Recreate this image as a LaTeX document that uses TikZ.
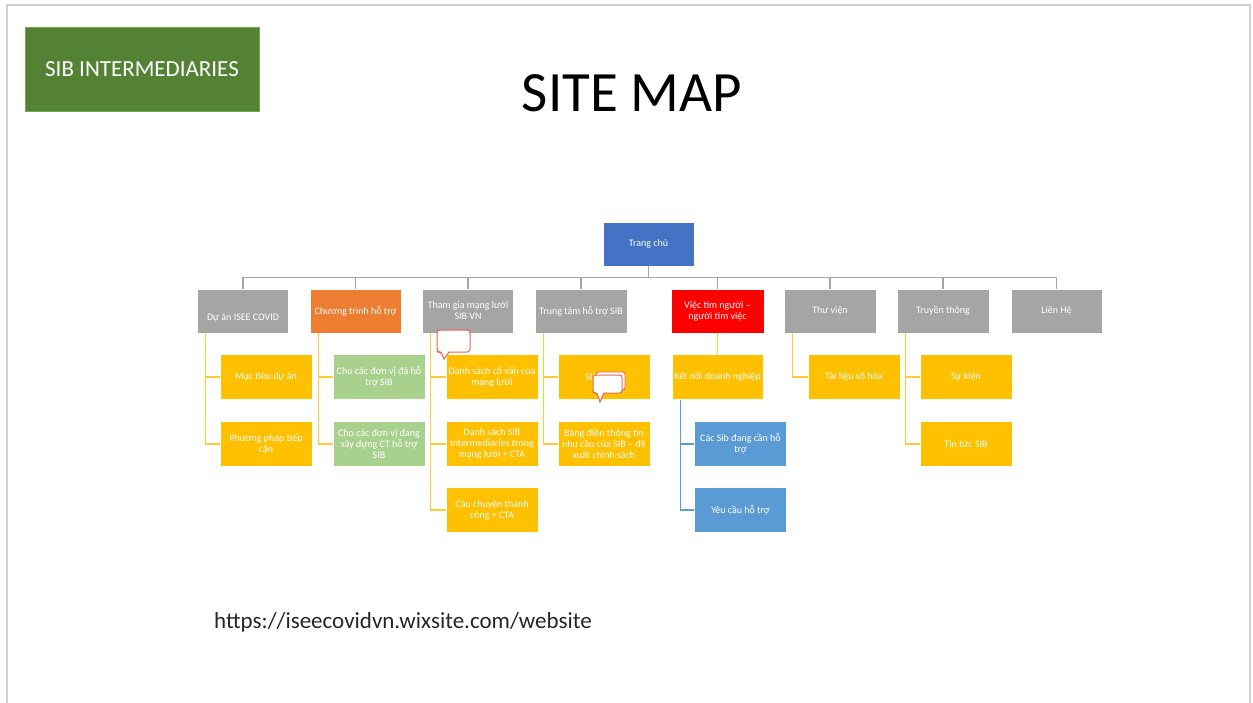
\documentclass[tikz,border=0pt]{standalone}
\usepackage{fontspec}
\setmainfont{Carlito}
\definecolor{cframe}{HTML}{D0D0D0}
\definecolor{cgreen}{HTML}{548235}
\definecolor{cgreenb}{HTML}{70AD47}
\definecolor{chome}{HTML}{4472C4}
\definecolor{cgray}{HTML}{A5A5A5}
\definecolor{corange}{HTML}{ED7D31}
\definecolor{cred}{HTML}{FF0000}
\definecolor{cyellow}{HTML}{FFC000}
\definecolor{clight}{HTML}{A9D18E}
\definecolor{cblue}{HTML}{5B9BD5}
\definecolor{cbubble}{HTML}{E8674F}
\definecolor{ctext}{HTML}{262626}
\begin{document}
\begin{tikzpicture}[x=1pt,y=-1pt,
  box/.style={draw=white, line width=0.5pt, minimum width=92pt, minimum height=44pt,
    inner sep=1pt, align=center, text=white, font=\fontsize{10}{11}\selectfont},
  boxtext/.style={text=white, font=\fontsize{10}{11}\selectfont, inner sep=0pt},
  graybox/.style={box, fill=cgray},
  yellowbox/.style={box, fill=cyellow, minimum height=45pt},
  greenbox/.style={box, fill=clight, minimum height=45pt},
  bluebox/.style={box, fill=cblue, minimum height=45pt},
  hub/.style={draw=cgray, line width=1.3pt},
  yl/.style={draw=cyellow!80!white, line width=1.3pt},
  bl/.style={draw=cblue, line width=1.3pt},
  bubble/.style={draw=cbubble, fill=white, line width=1pt}]
\useasboundingbox (0,0) rectangle (1253,702);
\fill[white] (0,0) rectangle (1253,702);
% slide frame
\draw[cframe, line width=2pt] (7,720) -- (7,5) -- (1250,5) -- (1250,720);

% header
\node[draw=cgreenb, line width=0.6pt, fill=cgreen, minimum width=234pt, minimum height=84pt,
  text=white, font=\fontsize{23}{26}\selectfont] (brand) at (142,69) {SIB INTERMEDIARIES};
\node[text=black, font=\fontsize{57}{60}\selectfont] (title) at (632,93) {SITE MAP};
\node[text=ctext, font=\fontsize{23}{26}\selectfont, anchor=west, inner sep=0pt] (url) at (214,622) {https://iseecovidvn.wixsite.com/website};

% root
\node[box, fill=chome, minimum width=91pt] (home) at (648.5,244) {Trang chủ};

% level 1
\node[graybox, minimum width=91pt] (a) at (243,311) {};
\node[boxtext] (at) at (243,318) {Dự án ISEE COVID};
\node[box, fill=corange, minimum width=91pt] (b) at (355.5,311) {Chương trình hỗ trợ};
\node[graybox, minimum width=91pt] (c) at (468,311) {Tham gia mạng lưới\\SIB VN};
\node[graybox, minimum width=92pt] (d) at (581,311) {Trung tâm hỗ trợ SIB};
\node[box, fill=cred, minimum width=93pt] (e) at (717.5,311) {Việc tìm người –\\người tìm việc};
\node[graybox, minimum width=92pt] (f) at (830,311) {Thư viện};
\node[graybox, minimum width=92pt] (g) at (943,311) {Truyền thông};
\node[graybox, minimum width=91pt] (h) at (1056.5,311) {Liên Hệ};

\foreach \n in {a,b,c,d,e,f,g,h}
  \draw[hub] (home.south) -- ++(0,11) -| (\n.north);

% level 2
\node[yellowbox] (a1) at (266,377) {Mục tiêu dự án};
\node[yellowbox] (a2) at (266,444) {Phương pháp tiếp\\cận};
\node[greenbox] (b1) at (379,377) {Cho các đơn vị đã hỗ\\trợ SIB};
\node[greenbox] (b2) at (379,444) {Cho các đơn vị đang\\xây dựng CT hỗ trợ\\SIB};
\node[yellowbox] (c1) at (492,377) {Danh sách cố vấn của\\mạng lưới};
\node[yellowbox] (c2) at (492,444) {Danh sách SIB\\Intermediaries trong\\mạng lưới + CTA};
\node[yellowbox] (c3) at (492,510) {Câu chuyện thành\\công + CTA};
\node[yellowbox] (d1) at (604,377) {};
\node[boxtext, anchor=west] (d1t) at (585,377) {SIB};
\node[yellowbox] (d2) at (604,444) {Bảng điền thông tin\\nhu cầu của SIB – đề\\xuất chính sách};
\node[yellowbox, minimum width=91pt] (e1) at (717.5,377) {Kết nối doanh nghiệp};
\node[bluebox] (e2) at (740.5,444) {Các Sib đang cần hỗ\\trợ};
\node[bluebox] (e3) at (740.5,510) {Yêu cầu hỗ trợ};
\node[yellowbox] (f1) at (854,377) {Tài liệu số hóa};
\node[yellowbox] (g1) at (966,377) {Sự kiện};
\node[yellowbox] (g2) at (966,444) {Tin tức SIB};

% level 2 connectors
\foreach \p/\k in {a/a1,a/a2,b/b1,b/b2,c/c1,c/c2,c/c3,d/d1,d/d2,f/f1,g/g1,g/g2}
  \draw[yl] ([xshift=8.5pt]\p.south west) |- (\k.west);
\draw[yl] (e.south) -- (e1.north);
\foreach \k in {e2,e3}
  \draw[bl] ([xshift=9pt]e1.south west) |- (\k.west);

% comment markers
\draw[bubble, rounded corners=3pt] (470,330) -- (437,330) -- (437,352) -- (441,352)
  [sharp corners] -- (444,359) -- (449,352) [rounded corners=3pt] -- (470,352) -- cycle;
\draw[bubble, line width=0.8pt, rounded corners=2.5pt] (596,372) rectangle (625,390);
\draw[bubble, rounded corners=2.5pt] (622,375) -- (593,375) -- (593,393) -- (597,393)
  [sharp corners] -- (600,402) -- (604,393) [rounded corners=2.5pt] -- (622,393) -- cycle;
\end{tikzpicture}
\end{document}
